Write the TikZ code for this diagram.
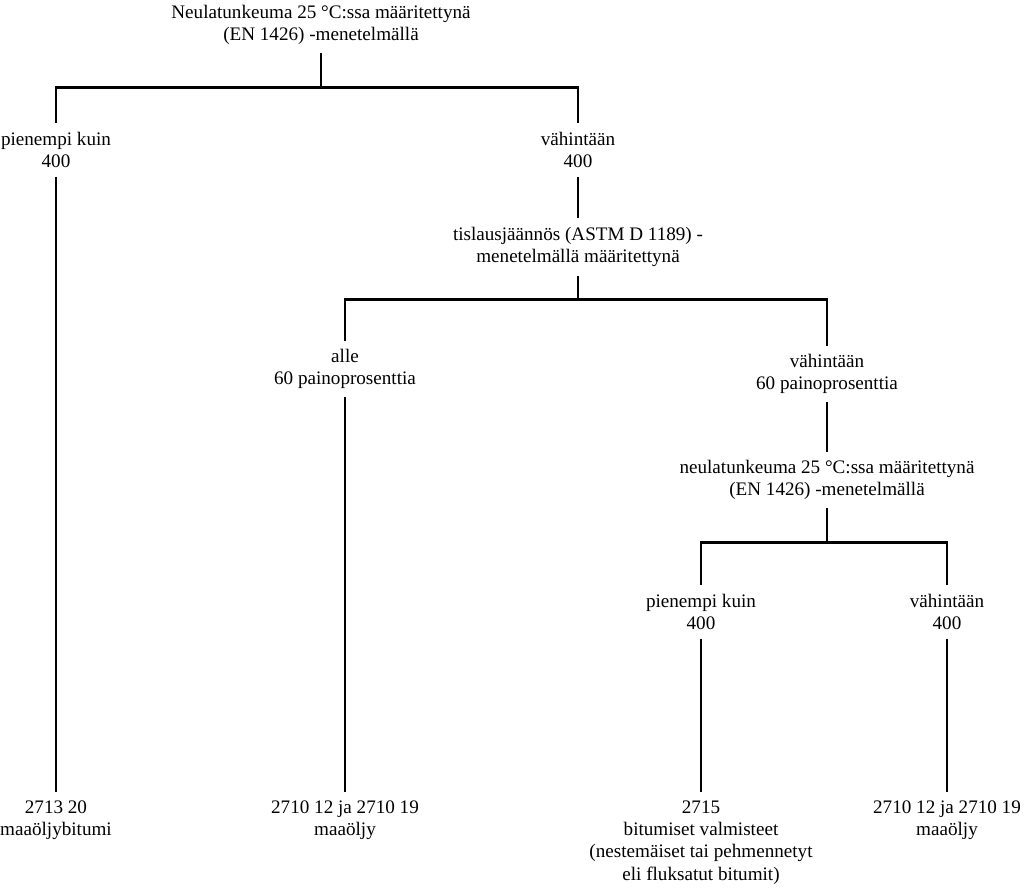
\documentclass[tikz,border=0pt]{standalone}
\usepackage{fontspec}
\setmainfont{Liberation Serif}
\usetikzlibrary{positioning}

\begin{document}
\begin{tikzpicture}[x=0.025cm, y=-0.025cm,
        lbl/.style={align=center, inner xsep=0pt, inner ysep=6pt, font=\fontsize{13.6}{15.8}\selectfont},
        line/.style={line width=1.5pt}
    ]
        \useasboundingbox (0,0) rectangle (1024,891);
        % Nodes
        \node[lbl] (q1) at (321,25) {Neulatunkeuma 25 °C:ssa määritettynä\\(EN 1426) -menetelmällä};
        \node[lbl] (a1) at (56,150) {pienempi kuin\\400};
        \node[lbl] (b1) at (578,150) {vähintään\\400};
        \node[lbl] (q2) at (578,247) {tislausjäännös (ASTM D 1189) -\\menetelmällä määritettynä};
        \node[lbl] (a2) at (345,369) {alle\\60 painoprosenttia};
        \node[lbl] (b2) at (827,374) {vähintään\\60 painoprosenttia};
        \node[lbl] (q3) at (827,480) {neulatunkeuma 25 °C:ssa määritettynä\\(EN 1426) -menetelmällä};
        \node[lbl] (a3) at (701,612) {pienempi kuin\\400};
        \node[lbl] (b3) at (947,612) {vähintään\\400};

        \node[lbl, anchor=north] (r1) at (56,792) {2713 20\\maaöljybitumi};
        \node[lbl, anchor=north] (r2) at (345,792) {2710 12 ja 2710 19\\maaöljy};
        \node[lbl, anchor=north] (r3) at (701,792) {2715\\bitumiset valmisteet\\(nestemäiset tai pehmennetyt\\eli fluksatut bitumit)};
        \node[lbl, anchor=north] (r4) at (947,792) {2710 12 ja 2710 19\\maaöljy};

        % Branches
        \draw[line] (q1.south) -- ++(0,34) coordinate (j1) -| (a1.north);
        \draw[line] (j1) -| (b1.north);
        \draw[line] (b1.south) -- (q2.north);
        \draw[line] (q2.south) -- ++(0,24) coordinate (j2) -| (a2.north);
        \draw[line] (j2) -| (b2.north);
        \draw[line] (b2.south) -- (q3.north);
        \draw[line] (q3.south) -- ++(0,34) coordinate (j3) -| (a3.north);
        \draw[line] (j3) -| (b3.north);

        % Leaves
        \draw[line] (a1.south) -- (r1.north);
        \draw[line] (a2.south) -- (r2.north);
        \draw[line] (a3.south) -- (r3.north);
        \draw[line] (b3.south) -- (r4.north);
    \end{tikzpicture}
\end{document}
